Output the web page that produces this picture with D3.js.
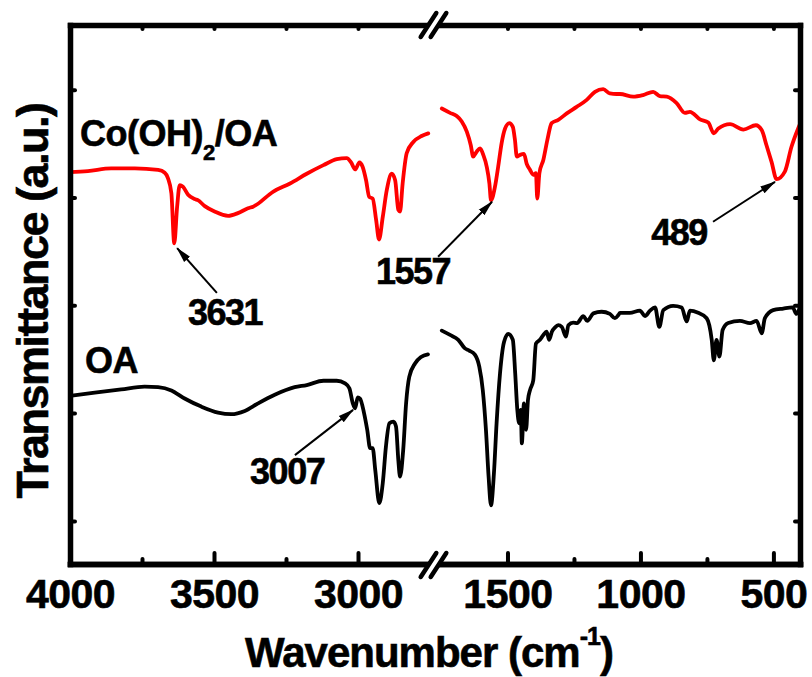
<!DOCTYPE html>
<html>
<head>
<meta charset="utf-8">
<script src="https://cdn.jsdelivr.net/npm/d3@7"></script>
<style>
body { margin: 0; background: #fff; }
text { font-family: "Liberation Sans", Arial, sans-serif; font-weight: bold; fill: #000; stroke: #000; stroke-width: 0.6px; }
</style>
</head>
<body>
<div id="chart"></div>
<script>
// FTIR spectra: wavenumber (cm-1) and transmittance (a.u.)
var coWave = [4000, 3938, 3857, 3775, 3694, 3671, 3660, 3648, 3638, 3628, 3619, 3608, 3590, 3567, 3556, 3532, 3498, 3451, 3417, 3382, 3364, 3294, 3236, 3178, 3120, 3074, 3039, 3024, 3010, 2995, 2984, 2972, 2961, 2949, 2937, 2927, 2914, 2900, 2883, 2871, 2860, 2854, 2845, 2831, 2808, 2779, 2756,
    1747, 1716, 1691, 1672, 1653, 1638, 1629, 1616, 1603, 1591, 1578, 1568, 1562, 1547, 1535, 1522, 1509, 1493, 1480, 1472, 1465, 1453, 1438, 1428, 1415, 1403, 1393, 1388, 1380, 1365, 1350, 1334, 1309, 1277, 1240, 1202, 1171, 1140, 1115, 1090, 1077, 1027, 990, 952, 927, 901, 864, 833, 814, 776, 745, 724, 707, 663, 613, 566, 544, 526, 507, 488, 457, 432, 407, 402];
var coT = [7.47, 7.49, 7.54, 7.54, 7.51, 7.46, 7.36, 7.08, 6.15, 6.83, 7.23, 7.20, 7.05, 6.97, 6.95, 6.84, 6.74, 6.66, 6.71, 6.80, 6.83, 7.11, 7.26, 7.44, 7.60, 7.71, 7.73, 7.65, 7.52, 7.65, 7.57, 7.32, 7.01, 6.98, 6.58, 6.22, 6.64, 7.14, 7.44, 7.32, 6.77, 6.74, 7.26, 7.82, 8.03, 8.14, 8.19,
    8.65, 8.57, 8.51, 8.41, 8.22, 7.97, 7.76, 7.85, 7.91, 7.79, 7.57, 7.26, 6.95, 7.20, 7.57, 8.01, 8.28, 8.38, 8.31, 8.07, 7.76, 7.79, 7.81, 7.63, 7.51, 7.42, 7.45, 6.98, 7.45, 7.70, 8.07, 8.38, 8.44, 8.56, 8.68, 8.81, 8.96, 9.01, 8.93, 8.92, 8.92, 8.87, 8.90, 8.96, 8.88, 8.87, 8.75, 8.57, 8.59, 8.45, 8.39, 8.19, 8.28, 8.36, 8.26, 8.34, 8.25, 7.97, 7.66, 7.34, 7.48, 7.94, 8.28, 8.34];

var oaWave = [4000, 3914, 3822, 3741, 3694, 3648, 3602, 3544, 3486, 3440, 3393, 3347, 3289, 3220, 3178, 3120, 3074, 3045, 3030, 3018, 3010, 3001, 2993, 2979, 2968, 2958, 2949, 2940, 2926, 2914, 2903, 2891, 2877, 2868, 2860, 2854, 2843, 2833, 2822, 2802, 2781, 2757,
    1747, 1716, 1685, 1660, 1644, 1622, 1606, 1593, 1581, 1571, 1562, 1551, 1541, 1528, 1513, 1497, 1480, 1471, 1463, 1456, 1450, 1446, 1438, 1430, 1423, 1415, 1403, 1393, 1378, 1365, 1353, 1343, 1333, 1321, 1309, 1296, 1280, 1271, 1253, 1238, 1215, 1200, 1177, 1146, 1115, 1096, 1083, 1077, 1040, 1002, 983, 964, 945, 929, 914, 877, 845, 826, 814, 783, 751, 732, 724, 714, 703, 691, 670, 626, 588, 563, 544, 532, 501, 463, 428, 413, 400];
var oaT = [3.32, 3.38, 3.44, 3.49, 3.48, 3.42, 3.27, 3.12, 3.01, 2.98, 3.04, 3.18, 3.34, 3.48, 3.52, 3.60, 3.60, 3.55, 3.46, 3.18, 3.09, 3.29, 3.27, 3.00, 2.69, 2.35, 2.35, 1.94, 1.33, 1.70, 2.38, 2.81, 2.84, 2.75, 2.13, 1.82, 2.32, 3.18, 3.67, 3.92, 4.04, 4.09,
    4.53, 4.45, 4.36, 4.20, 4.16, 4.08, 3.86, 3.43, 2.69, 1.82, 1.29, 1.88, 2.81, 3.74, 4.32, 4.47, 4.36, 3.74, 3.06, 2.81, 3.06, 2.44, 3.18, 2.69, 3.24, 3.43, 3.61, 4.29, 4.36, 4.45, 4.51, 4.36, 4.51, 4.59, 4.63, 4.60, 4.42, 4.63, 4.68, 4.67, 4.80, 4.71, 4.85, 4.88, 4.84, 4.76, 4.82, 4.86, 4.86, 4.90, 4.80, 4.90, 4.96, 4.60, 4.91, 4.99, 4.96, 4.70, 4.90, 4.86, 4.76, 4.36, 3.98, 4.36, 4.05, 4.54, 4.67, 4.71, 4.67, 4.71, 4.48, 4.76, 4.91, 4.94, 4.96, 4.84, 4.97];

// broken x axis: two wavenumber ranges
var leftRange = [4000, 2750];
var rightRange = [1750, 400];
var leftMajor = [4000, 3500, 3000];
var leftMinor = [3750, 3250];
var rightMajor = [1500, 1000, 500];
var rightMinor = [1250, 750];
var yTicks = [1, 3, 5, 7, 9];

// peak annotations: tip on the curve, tail and label position (all in data units)
var peakLabels = ["3631", "1557", "489", "3007"];
var peakSide = ["left", "right", "right", "left"];
var peakTip = [[3628, 6.06], [1558, 6.92], [494, 7.29], [3017, 3.06]];
var peakTail = [[3490, 5.23], [1761, 5.90], [727, 6.55], [3219, 2.22]];
var peakText = [[3462, 4.63], [1855, 5.39], [855, 6.12], [3246, 1.68]];

const width = 812, height = 677;

var svg = d3.select("#chart").append("svg")
    .attr("width", width)
    .attr("height", height);

var xLeft = d3.scaleLinear().domain(leftRange).range([70, 430]);
var xRight = d3.scaleLinear().domain(rightRange).range([441, 800]);
var y = d3.scaleLinear().domain([0.2, 10.2]).range([564, 25]);

function xOf(w, side) {
    if (side === "left") return xLeft(w);
    if (side === "right") return xRight(w);
    return w >= leftRange[1] ? xLeft(w) : xRight(w);
}

// ---- curves
function pairs(wave, t) {
    return wave.map(function (w, i) { return { w: w, t: t[i] }; });
}
var line = d3.line()
    .x(function (d) { return xOf(d.w); })
    .y(function (d) { return y(d.t); })
    .curve(d3.curveMonotoneX);

var series = [
    { data: pairs(coWave, coT), color: "#ff0000" },
    { data: pairs(oaWave, oaT), color: "#000000" }
];
series.forEach(function (s) {
    var segs = [
        s.data.filter(function (d) { return d.w >= leftRange[1]; }),
        s.data.filter(function (d) { return d.w <= rightRange[0]; })
    ];
    segs.forEach(function (seg) {
        svg.append("path")
            .datum(seg)
            .attr("d", line)
            .attr("fill", "none")
            .attr("stroke", s.color)
            .attr("stroke-width", 3.8)
            .attr("stroke-linejoin", "round")
            .attr("stroke-linecap", "round");
    });
});

// ---- axes
function styleAxis(g, withText) {
    g.select(".domain").attr("stroke-width", 5.5).attr("stroke-linecap", "square");
    g.selectAll(".tick line").attr("stroke-width", 4).attr("stroke-linecap", "round");
    g.selectAll(".tick text")
        .style("font-family", '"Liberation Sans", Arial, sans-serif')
        .style("font-weight", "bold")
        .style("font-size", "41px")
        .style("letter-spacing", "-0.5px")
        .attr("fill", "#000");
    if (!withText) g.selectAll(".tick text").remove();
}

[[xLeft, leftMajor, leftMinor], [xRight, rightMajor, rightMinor]].forEach(function (a) {
    var gb = svg.append("g").attr("transform", "translate(0,564)")
        .call(d3.axisBottom(a[0]).tickValues(a[1]).tickSize(-11).tickSizeOuter(0).tickPadding(15).tickFormat(d3.format("d")));
    styleAxis(gb, true);
    var gm = svg.append("g").attr("transform", "translate(0,564)")
        .call(d3.axisBottom(a[0]).tickValues(a[2]).tickSize(-5).tickSizeOuter(0).tickFormat(""));
    styleAxis(gm, false);
    var gt = svg.append("g").attr("transform", "translate(0,25)")
        .call(d3.axisTop(a[0]).tickValues(a[1].concat(a[2])).tickSize(-4).tickSizeOuter(0).tickFormat(""));
    styleAxis(gt, false);
});

var gl = svg.append("g").attr("transform", "translate(70,0)")
    .call(d3.axisLeft(y).tickValues(yTicks).tickSize(-5).tickSizeOuter(0).tickFormat(""));
styleAxis(gl, false);
var gr = svg.append("g").attr("transform", "translate(800,0)")
    .call(d3.axisRight(y).tickValues(yTicks).tickSize(-5).tickSizeOuter(0).tickFormat(""));
styleAxis(gr, false);

// ---- axis break marks
var breakX = (xLeft(leftRange[1]) + xRight(rightRange[0])) / 2 - 2;
[25, 565].forEach(function (yy) {
    var c1 = breakX - 5, c2 = breakX + 5, dx = 7.8, dy = 12;
    svg.append("polygon")
        .attr("points", [[c1 - dx, yy + dy], [c2 - dx, yy + dy], [c2 + dx, yy - dy], [c1 + dx, yy - dy]].join(" "))
        .attr("fill", "#fff");
    [c1, c2].forEach(function (c) {
        svg.append("line")
            .attr("x1", c - dx).attr("y1", yy + dy)
            .attr("x2", c + dx).attr("y2", yy - dy)
            .attr("stroke", "#000")
            .attr("stroke-width", 4.5)
            .attr("stroke-linecap", "round");
    });
});

// ---- axis titles
var xt = svg.append("text")
    .attr("x", 429).attr("y", 667)
    .attr("text-anchor", "middle")
    .style("font-size", "42px")
    .style("letter-spacing", "-1px");
xt.append("tspan").text("Wavenumber (cm");
xt.append("tspan").attr("dy", -22).style("font-size", "25px").text("-1");
xt.append("tspan").attr("dy", 22).text(")");

svg.append("text")
    .attr("transform", "translate(48,301) rotate(-90)")
    .attr("text-anchor", "middle")
    .style("font-size", "45px")
    .style("letter-spacing", "-1.5px")
    .text("Transmittance (a.u.)");

// ---- series labels
var coLabel = svg.append("text")
    .attr("x", xLeft(3965)).attr("y", y(7.96))
    .style("font-size", "36px")
    .style("letter-spacing", "-0.5px");
coLabel.append("tspan").text("Co(OH)");
coLabel.append("tspan").attr("dy", 14).style("font-size", "22px").text("2");
coLabel.append("tspan").attr("dy", -14).text("/OA");

svg.append("text")
    .attr("x", xLeft(3948)).attr("y", y(3.74))
    .style("font-size", "36px")
    .style("letter-spacing", "-0.5px")
    .text("OA");

// ---- peak annotations
svg.append("defs").append("marker")
    .attr("id", "arrow")
    .attr("markerUnits", "userSpaceOnUse")
    .attr("markerWidth", 16).attr("markerHeight", 10)
    .attr("refX", 15).attr("refY", 5)
    .attr("orient", "auto")
    .append("path")
    .attr("d", "M0,1 L16,5 L0,9 Z")
    .attr("fill", "#000");

peakLabels.forEach(function (lab, i) {
    var side = peakSide[i];
    svg.append("line")
        .attr("x1", xOf(peakTail[i][0], side)).attr("y1", y(peakTail[i][1]))
        .attr("x2", xOf(peakTip[i][0], side)).attr("y2", y(peakTip[i][1]))
        .attr("stroke", "#000")
        .attr("stroke-width", 2)
        .attr("marker-end", "url(#arrow)");
    svg.append("text")
        .attr("x", xOf(peakText[i][0], side)).attr("y", y(peakText[i][1]))
        .attr("text-anchor", "middle")
        .style("font-size", "36px")
        .style("letter-spacing", "-1.5px")
        .text(lab);
});
</script>
</body>
</html>
